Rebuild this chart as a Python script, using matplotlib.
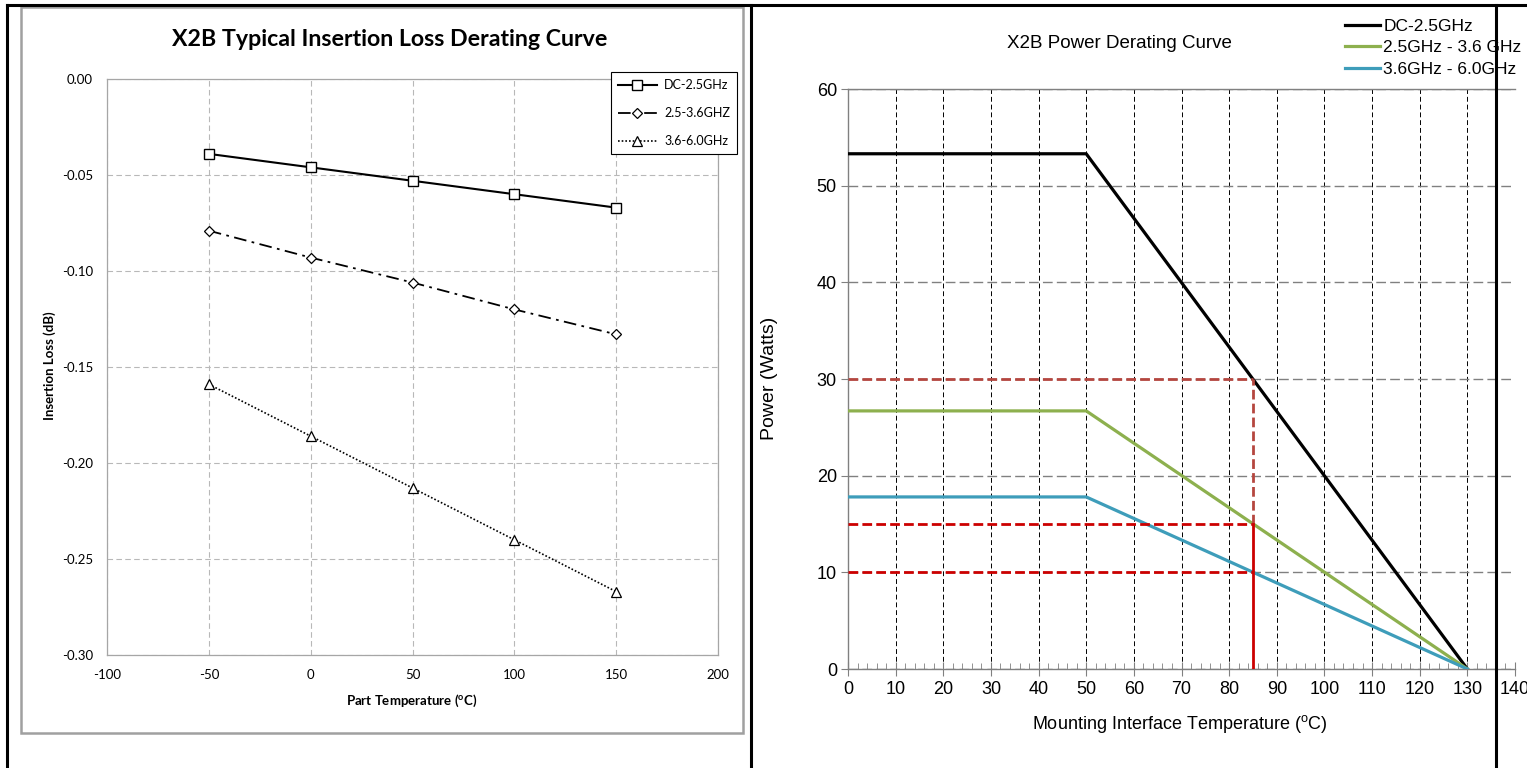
import matplotlib
matplotlib.use("Agg")
import matplotlib.pyplot as plt
from matplotlib.lines import Line2D
from matplotlib.patches import Rectangle

# left chart: insertion loss vs part temperature
part_temp = [-50, 0, 50, 100, 150]
loss_dc = [-0.039, -0.046, -0.053, -0.060, -0.067]
loss_mid = [-0.079, -0.093, -0.106, -0.120, -0.133]
loss_hi = [-0.159, -0.186, -0.213, -0.240, -0.267]
loss_labels = ["DC-2.5GHz", "2.5-3.6GHZ", "3.6-6.0GHz"]
loss_xticks = [-100, -50, 0, 50, 100, 150, 200]
loss_yticks = [-0.30, -0.25, -0.20, -0.15, -0.10, -0.05, 0.00]

# right chart: power derating
mount_temp = [0, 50, 130]
power_dc = [53.3, 53.3, 0]
power_mid = [26.7, 26.7, 0]
power_hi = [17.8, 17.8, 0]
power_labels = ["DC-2.5GHz", "2.5GHz - 3.6 GHz", "3.6GHz - 6.0GHz"]
ref_temp = 85
ref_power = [30, 15, 10]

W, H = 1527, 768


def box(x0, y0, x1, y1):
    return [x0 / W, 1 - y1 / H, (x1 - x0) / W, (y1 - y0) / H]


def fx(x):
    return x / W


def fy(y):
    return 1 - y / H


fig = plt.figure(figsize=(W / 100, H / 100), dpi=100)

LF = ["Lato", "DejaVu Sans"]
RF = ["Liberation Sans", "DejaVu Sans"]

# ---------------- left ----------------
fig.patches.append(Rectangle((fx(21), fy(733)), fx(743) - fx(21), fy(7) - fy(733),
                             transform=fig.transFigure, fill=False,
                             edgecolor="#a0a0a0", lw=1.8, zorder=0))

ax1 = fig.add_axes(box(107, 79, 718, 655))
ax1.set_xlim(-100, 200)
ax1.set_ylim(-0.30, 0.0)
ax1.set_xticks(loss_xticks)
ax1.set_yticks(loss_yticks)
ax1.set_yticklabels(["%.2f" % v for v in loss_yticks], family=LF, fontsize=9.5)
ax1.set_xticklabels([str(v) for v in loss_xticks], family=LF, fontsize=9.5)
ax1.tick_params(length=0, pad=10)
ax1.grid(True, color="#b8b8b8", ls=(0, (5, 3)), lw=0.8)
ax1.set_axisbelow(True)
for s in ax1.spines.values():
    s.set_color("#a6a6a6")
    s.set_linewidth(0.9)

ax1.plot(part_temp, loss_dc, color="black", lw=1.5, marker="s", ms=7,
         mfc="white", mec="black", mew=1.0, label=loss_labels[0])
ax1.plot(part_temp, loss_mid, color="black", lw=1.3, ls=(0, (7, 3, 1.5, 3)),
         marker="D", ms=5, mfc="white", mec="black", mew=0.9, label=loss_labels[1])
ax1.plot(part_temp, loss_hi, color="black", lw=1.2, ls=(0, (1, 1.2)),
         marker="^", ms=6.5, mfc="white", mec="black", mew=0.9, label=loss_labels[2])

leg1 = ax1.legend(loc="upper left", bbox_to_anchor=(fx(611), fy(72)),
                  bbox_transform=fig.transFigure, prop={"family": LF, "size": 9},
                  fancybox=False, edgecolor="black", framealpha=1,
                  handlelength=3.1, handletextpad=0.6, labelspacing=1.3,
                  borderpad=0.55, borderaxespad=0)
leg1.get_frame().set_linewidth(0.8)

fig.text(fx(390), fy(40), "X2B Typical Insertion Loss Derating Curve",
         ha="center", va="center", family=LF, fontsize=16.7, fontweight="bold")
fig.text(fx(412), fy(701), r"Part Temperature ($^\mathregular{o}$C)",
         ha="center", va="center", family=LF, fontsize=9.5, fontweight="bold")
fig.text(fx(50), fy(366), "Insertion Loss (dB)", rotation=90,
         ha="center", va="center", family=LF, fontsize=9.5, fontweight="bold")

# ---------------- right ----------------
ax2 = fig.add_axes(box(848, 89, 1515, 669))
ax2.set_xlim(0, 140)
ax2.set_ylim(0, 60)
ax2.set_xticks(range(0, 141, 10))
ax2.set_xticks(range(0, 141, 2), minor=True)
ax2.set_yticks(range(0, 61, 10))
ax2.set_xticklabels([str(v) for v in range(0, 141, 10)], family=RF, fontsize=13)
ax2.set_yticklabels([str(v) for v in range(0, 61, 10)], family=RF, fontsize=13)
ax2.tick_params(axis="x", which="major", direction="inout", length=10,
                color="#808080", pad=4)
ax2.tick_params(axis="x", which="minor", direction="in", length=4,
                color="#808080")
ax2.tick_params(axis="y", which="major", direction="out", length=5,
                color="#808080", pad=3)
ax2.xaxis.grid(True, which="major", color="black", ls=(0, (5, 3)), lw=0.7)
ax2.yaxis.grid(True, which="major", color="#808080", ls=(0, (7, 3)), lw=1.0)
ax2.set_axisbelow(True)
ax2.spines["right"].set_visible(False)
for k in ["left", "bottom", "top"]:
    ax2.spines[k].set_color("#808080")
    ax2.spines[k].set_linewidth(1.0)

ax2.plot(mount_temp, power_dc, color="black", lw=2.3, label=power_labels[0], zorder=3)
ax2.plot(mount_temp, power_mid, color="#8DB04E", lw=2.3, label=power_labels[1], zorder=3)
ax2.plot(mount_temp, power_hi, color="#3E9DBA", lw=2.3, label=power_labels[2], zorder=3)

# reference lines at 85 C
ax2.plot([0, ref_temp], [ref_power[0], ref_power[0]], color="#B5463F", lw=2.0,
         ls=(0, (3.5, 1.5)), zorder=4)
for p in ref_power[1:]:
    ax2.plot([0, ref_temp], [p, p], color="#CC0000", lw=2.0,
             ls=(0, (3.5, 1.5)), zorder=4)
ax2.plot([ref_temp, ref_temp], [ref_power[1], ref_power[0]], color="#B5463F",
         lw=2.0, ls=(0, (3.5, 1.5)), zorder=4)
ax2.plot([ref_temp, ref_temp], [0, ref_power[1]], color="#CC0000", lw=2.0, zorder=4)

ax2.legend(loc="upper left", bbox_to_anchor=(fx(1345), fy(19)),
           bbox_transform=fig.transFigure, frameon=False,
           prop={"family": RF, "size": 12.5}, handlelength=2.0,
           handletextpad=0.2, labelspacing=0.35, borderpad=0, borderaxespad=0)

fig.text(fx(1119), fy(44), "X2B Power Derating Curve", ha="center", va="center",
         family=RF, fontsize=13.5)
fig.text(fx(1180), fy(724), r"Mounting Interface Temperature ($^\mathregular{o}$C)",
         ha="center", va="center", family=RF, fontsize=13)
fig.text(fx(770), fy(378), "Power (Watts)", rotation=90, ha="center",
         va="center", family=RF, fontsize=14)

# table borders
bk = dict(color="black", lw=2.2, transform=fig.transFigure, zorder=10)
fig.add_artist(Line2D([fx(7), 1], [fy(5), fy(5)], **bk))
fig.add_artist(Line2D([fx(7), fx(7)], [fy(5), 0], **bk))
fig.add_artist(Line2D([fx(751), fx(751)], [fy(5), 0], **bk))
fig.add_artist(Line2D([fx(1496), fx(1496)], [fy(5), 0], **bk))

fig.savefig("out.png", dpi=100)
